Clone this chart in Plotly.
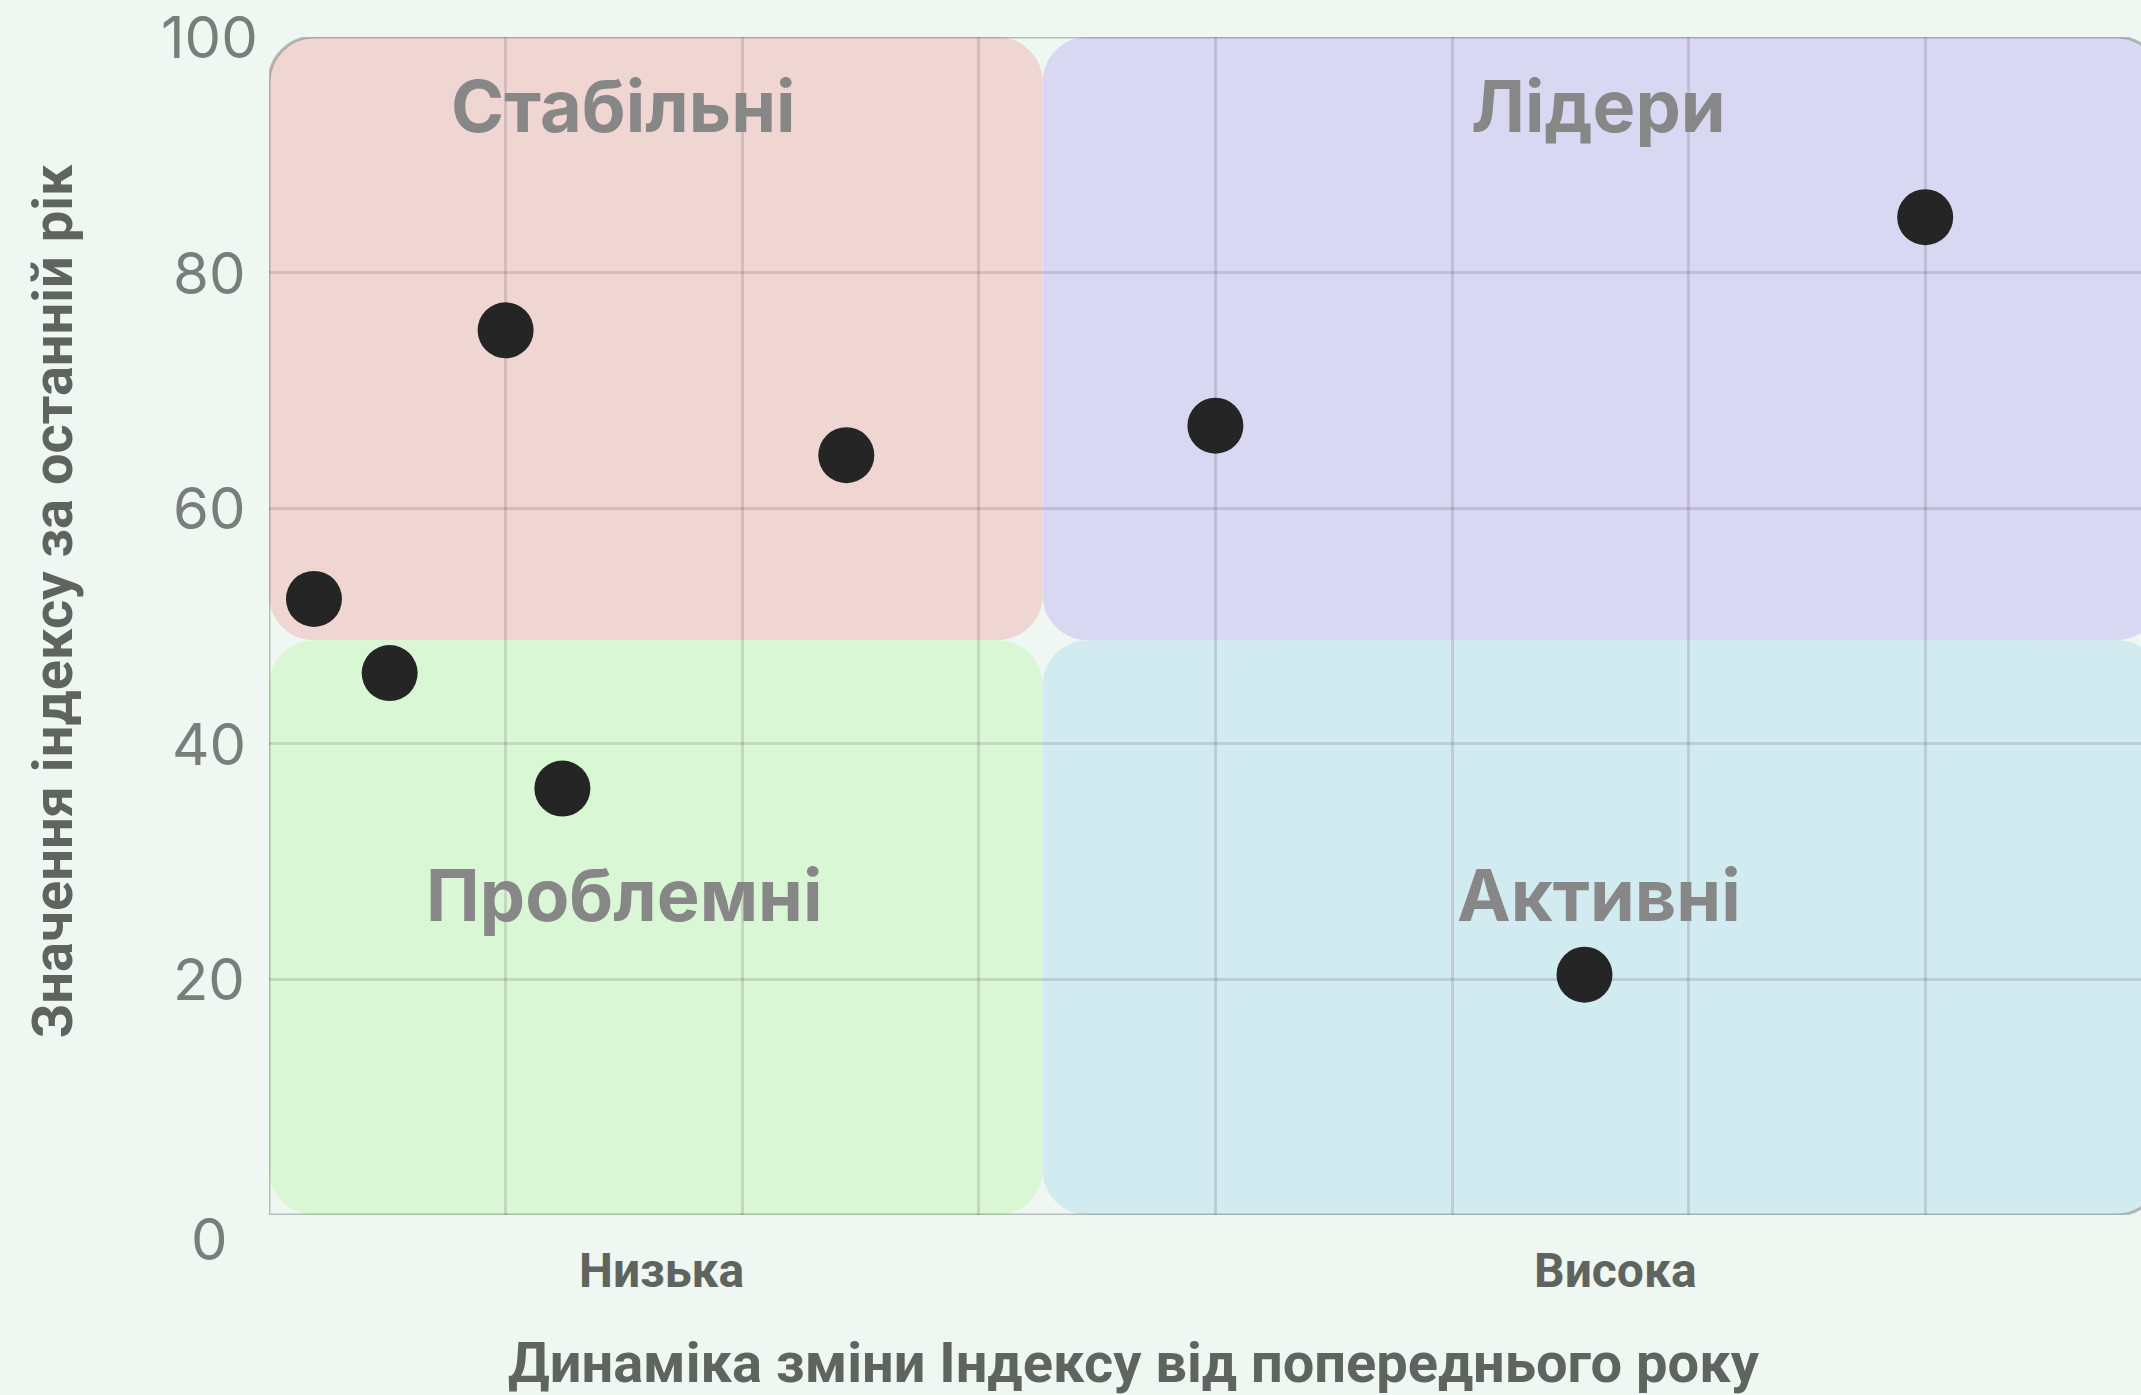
import plotly.graph_objects as go

# ---------------- data ----------------
x_dynamics = [0.19, 0.51, 1.0, 1.24, 2.44, 4.0, 5.56, 7.0]
y_index = [52.3, 46.0, 75.1, 36.2, 64.5, 67.0, 20.4, 84.7]

y_tick_vals = [0, 20, 40, 60, 80, 100]
y_tick_text = ["0", "20", "40", "60", "80", "100"]
x_grid_vals = [1, 2, 3, 4, 5, 6, 7]
x_cat_pos = [1.66, 5.69]
x_cat_text = ["Низька", "Висока"]

x_split = 3.27
y_split = 48.8
x_max = 8.0

quad_names = ["Стабільні", "Лідери", "Проблемні", "Активні"]
quad_label_x = [1.5, 5.62, 1.5, 5.62]
quad_label_y = [94.2, 94.2, 27.2, 27.2]
quad_colors = ["#f0d6d3", "#d8d8f3", "#daf7d5", "#d2ebf0"]

# ---------------- layout constants ----------------
W, H = 2141, 1395
ML, MR, MT, MB = 269, 0, 37, 180
px_per_x = 236.6
x_range = [0, (W - ML - MR) / px_per_x]
y_range = [0, 100]
px_per_y = (H - MT - MB) / 100.0

R_PX = 45
rx = R_PX / px_per_x
ry = R_PX / px_per_y
K = 0.5523


def rounded_rect(x0, x1, y0, y1):
    kx, ky = K * rx, K * ry
    return (
        f"M {x0+rx},{y0} L {x1-rx},{y0} "
        f"C {x1-rx+kx},{y0} {x1},{y0+ry-ky} {x1},{y0+ry} "
        f"L {x1},{y1-ry} "
        f"C {x1},{y1-ry+ky} {x1-rx+kx},{y1} {x1-rx},{y1} "
        f"L {x0+rx},{y1} "
        f"C {x0+rx-kx},{y1} {x0},{y1-ry+ky} {x0},{y1-ry} "
        f"L {x0},{y0+ry} "
        f"C {x0},{y0+ry-ky} {x0+rx-kx},{y0} {x0+rx},{y0} Z"
    )


def frame_path(x0, x1, y0, y1):
    kx, ky = K * rx, K * ry
    return (
        f"M {x0},{y0} L {x0},{y1-ry} "
        f"C {x0},{y1-ry+ky} {x0+rx-kx},{y1} {x0+rx},{y1} "
        f"L {x1-rx},{y1} "
        f"C {x1-rx+kx},{y1} {x1},{y1-ry+ky} {x1},{y1-ry} "
        f"L {x1},{y0+ry} "
        f"C {x1},{y0+ry-ky} {x1-rx+kx},{y0} {x1-rx},{y0} "
        f"L {x0},{y0}"
    )


quad_boxes = [
    (0, x_split, y_split, 100),
    (x_split, x_max, y_split, 100),
    (0, x_split, 0, y_split),
    (x_split, x_max, 0, y_split),
]

shapes = []
for (x0, x1, y0, y1), col in zip(quad_boxes, quad_colors):
    shapes.append(dict(type="path", xref="x", yref="y", path=rounded_rect(x0, x1, y0, y1),
                       fillcolor=col, line=dict(width=0), layer="below"))
shapes.append(dict(type="path", xref="x", yref="y", path=frame_path(0, x_max, 0, 100),
                   line=dict(color="rgba(40,40,40,0.28)", width=3), layer="between"))

fig = go.Figure()
fig.add_trace(go.Scatter(
    x=x_dynamics, y=y_index, mode="markers",
    marker=dict(size=56, color="#252525", line=dict(width=0)),
    hoverinfo="x+y", showlegend=False, cliponaxis=False,
))

annotations = []
GRID_FONT = "Inter, 'Noto Sans', sans-serif"
BOLD_FONT = "Roboto, 'Liberation Sans', Arial, sans-serif"

for v, t in zip(y_tick_vals, y_tick_text):
    annotations.append(dict(x=0, xref="paper", y=v, yref="y", text=t, showarrow=False,
                            xanchor="center", yanchor="middle", xshift=-60,
                            yshift=-24 if v == 0 else 0,
                            font=dict(family=GRID_FONT, size=58, color="#7a7e7b")))
for v, t in zip(x_cat_pos, x_cat_text):
    annotations.append(dict(x=v, xref="x", y=0, yref="paper", text=f"<b>{t}</b>", showarrow=False,
                            xanchor="center", yanchor="middle", yshift=-55,
                            font=dict(family=BOLD_FONT, size=48, color="#5f645f")))
for name, qx, qy in zip(quad_names, quad_label_x, quad_label_y):
    annotations.append(dict(x=qx, xref="x", y=qy, yref="y", text=f"<b>{name}</b>", showarrow=False,
                            xanchor="center", yanchor="middle",
                            font=dict(family=GRID_FONT, size=72, color="#878787")))

annotations.append(dict(x=0, xref="paper", y=0.521, yref="paper",
                        text="<b>Значення індексу за останній рік</b>", showarrow=False,
                        textangle=-90, xanchor="center", yanchor="middle", xshift=-216,
                        font=dict(family=BOLD_FONT, size=56, color="#5f645f")))
annotations.append(dict(x=0.462, xref="paper", y=0, yref="paper",
                        text="<b>Динаміка зміни Індексу від попереднього року</b>", showarrow=False,
                        xanchor="center", yanchor="middle", yshift=-148,
                        font=dict(family=BOLD_FONT, size=56, color="#5f645f")))

fig.update_layout(
    width=W, height=H,
    margin=dict(l=ML, r=MR, t=MT, b=MB, pad=0),
    paper_bgcolor="#eef7f1",
    plot_bgcolor="rgba(0,0,0,0)",
    shapes=shapes,
    annotations=annotations,
    xaxis=dict(range=x_range, tickvals=x_grid_vals, showticklabels=False, showgrid=True,
               gridcolor="rgba(60,30,50,0.14)", gridwidth=3, zeroline=False, showline=False,
               ticks="", fixedrange=True),
    yaxis=dict(range=y_range, tickvals=y_tick_vals[1:-1], showticklabels=False, showgrid=True,
               gridcolor="rgba(60,30,50,0.14)", gridwidth=3, zeroline=False, showline=False,
               ticks="", fixedrange=True),
)

fig.write_html(
    "out.html",
    config={"displayModeBar": False},
    post_script="document.body.style.margin='0';document.body.style.overflow='hidden';"
                "document.body.style.background='#eef7f1';",
)
